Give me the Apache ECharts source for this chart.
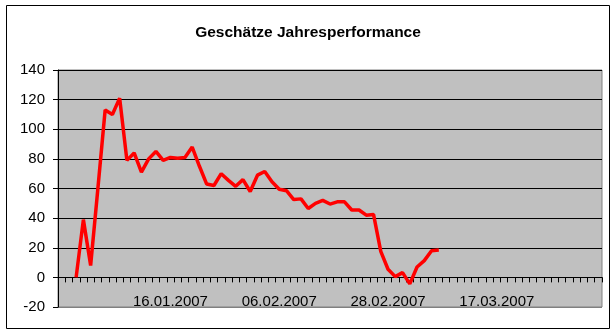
<!DOCTYPE html>
<html>
<head>
<meta charset="utf-8">
<script src="https://cdn.jsdelivr.net/npm/echarts@6/dist/echarts.min.js"></script>
<style>
html,body{margin:0;padding:0;background:#fff;}
#chart{width:616px;height:335px;}
</style>
</head>
<body>
<div id="chart"></div>
<script>
// Number of category slots on the x axis (trading days)
const categoryCount = 75;
// Category indices that carry a date label, and those labels
const tickIndex = [15, 30, 45, 60];
const tickLabels = ['16.01.2007', '06.02.2007', '28.02.2007', '17.03.2007'];
// First category index that carries data
const dataStart = 2;
// Estimated annual performance values
const performance = [
  0, 39, 8, 60, 113, 110, 121, 79, 84, 71,
  80, 85, 79, 81, 80.5, 81, 88, 75, 63, 62,
  70, 65.5, 61.5, 66, 58, 69, 71.5, 64.5, 59.5, 58.5,
  52.5, 53, 46.5, 50, 52, 49.5, 51, 51, 45.5, 45.5,
  42, 42.5, 17.5, 5.5, 0.5, 3.2, -4.4, 7, 11.3, 18,
  18.5
];
const yTicks = [-20, 0, 20, 40, 60, 80, 100, 120, 140];

const categories = [];
for (let i = 0; i < categoryCount; i++) categories.push(i);
const seriesData = categories.map(i => {
  const k = i - dataStart;
  return (k >= 0 && k < performance.length) ? performance[k] : null;
});

const font = '"Liberation Sans", Arial, sans-serif';
const chart = echarts.init(document.getElementById('chart'), null, {renderer: 'canvas'});
chart.setOption({
  backgroundColor: '#ffffff',
  animation: false,
  title: {
    text: 'Geschätze Jahresperformance',
    left: 'center',
    top: 20,
    textStyle: {fontFamily: font, fontSize: 15.5, fontWeight: 'bold', color: '#000'}
  },
  graphic: [{
    type: 'rect',
    shape: {x: 6.5, y: 5.5, width: 603, height: 323},
    style: {fill: 'none', stroke: '#000', lineWidth: 1},
    silent: true,
    z: 100
  }],
  grid: {
    left: 58, right: 14, top: 70, bottom: 28,
    show: true,
    backgroundColor: '#c0c0c0',
    borderColor: '#808080',
    borderWidth: 1
  },
  xAxis: {
    type: 'category',
    data: categories,
    boundaryGap: true,
    axisLine: {show: true, onZero: true, lineStyle: {color: '#000', width: 1}},
    axisTick: {show: true, interval: 0, length: 5, lineStyle: {color: '#000'}},
    axisLabel: {
      interval: (idx) => tickIndex.indexOf(idx) >= 0,
      formatter: (v, idx) => {
        const p = tickIndex.indexOf(Number(v));
        return p >= 0 ? tickLabels[p] : '';
      },
      margin: -13,
      fontFamily: font, fontSize: 15, color: '#000'
    },
    splitLine: {show: false}
  },
  yAxis: {
    type: 'value',
    min: yTicks[0],
    max: yTicks[yTicks.length - 1],
    interval: 20,
    axisLine: {show: true, lineStyle: {color: '#000', width: 1}},
    axisTick: {show: true, length: 5, lineStyle: {color: '#000'}},
    axisLabel: {margin: 13, fontFamily: font, fontSize: 15, color: '#000'},
    splitLine: {
      show: true,
      lineStyle: {color: ['#808080', '#000', '#000', '#000', '#000', '#000', '#000', '#000', '#000'], width: 1}
    }
  },
  series: [{
    type: 'line',
    data: seriesData,
    symbol: 'none',
    connectNulls: false,
    lineStyle: {color: '#ff0000', width: 3.5},
    z: 5
  }]
});
</script>
</body>
</html>
